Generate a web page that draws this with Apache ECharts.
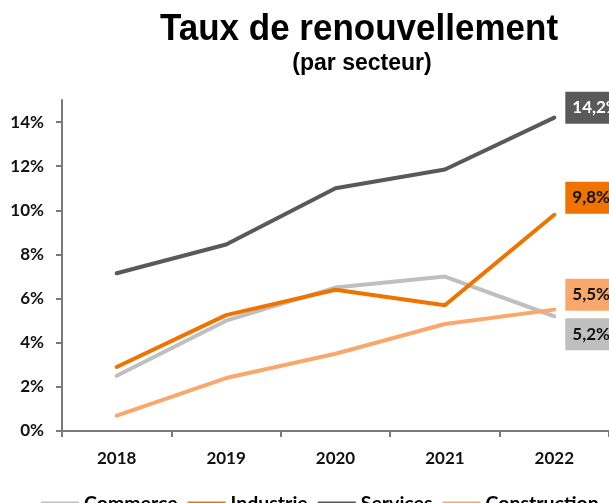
<!DOCTYPE html>
<html>
<head>
<meta charset="utf-8">
<script src="https://cdn.jsdelivr.net/npm/echarts@6/dist/echarts.min.js"></script>
<style>
  html, body { margin: 0; padding: 0; background: #ffffff; }
  #chart { width: 609px; height: 503px; }
</style>
</head>
<body>
<div id="chart"></div>
<script>
// Annual renewal rate by sector, in percent
const years = ['2018', '2019', '2020', '2021', '2022'];
const commerce = [2.5, 5.0, 6.5, 7.0, 5.2];
const industrie = [2.9, 5.25, 6.4, 5.7, 9.8];
const services = [7.15, 8.45, 11.0, 11.85, 14.2];
const construction = [0.7, 2.4, 3.5, 4.85, 5.5];
const yTicks = [0, 2, 4, 6, 8, 10, 12, 14];

const labelFont = 'Lato, "Open Sans", sans-serif';

function fmtPct(v) {
  return v.toFixed(1).replace('.', ',') + '%';
}

function lineSeries(name, data, color, labelBg, labelColor, dy) {
  return {
    name: name,
    type: 'line',
    data: data,
    symbol: 'none',
    lineStyle: { color: color, width: 4, cap: 'round' },
    itemStyle: { color: color },
    endLabel: {
      show: true,
      formatter: (p) => fmtPct(p.value),
      distance: 11,
      offset: [0, dy],
      backgroundColor: labelBg,
      color: labelColor,
      fontFamily: labelFont,
      fontWeight: 'bold',
      fontSize: 17,
      lineHeight: 18,
      padding: [7, 7, 7, 7]
    },
    emphasis: { disabled: true }
  };
}

const chart = echarts.init(document.getElementById('chart'), null, { renderer: 'canvas' });

chart.setOption({
  animation: false,
  backgroundColor: '#ffffff',
  graphic: [
    {
      type: 'text',
      x: 359, y: 30,
      scaleY: 1.03,
      style: {
        text: 'Taux de renouvellement',
        font: 'bold 35px "Liberation Sans", Arial, sans-serif',
        fill: '#000000',
        align: 'center',
        verticalAlign: 'middle'
      }
    },
    {
      type: 'text',
      x: 362, y: 64,
      style: {
        text: '(par secteur)',
        font: 'bold 23px "Liberation Sans", Arial, sans-serif',
        fill: '#000000',
        align: 'center',
        verticalAlign: 'middle'
      }
    }
  ],
  legend: {
    top: 489,
    left: 36,
    itemWidth: 38,
    itemHeight: 5,
    itemGap: 10,
    icon: 'rect',
    textStyle: {
      fontFamily: labelFont,
      fontWeight: 'bold',
      fontSize: 19.5,
      color: '#000000'
    },
    data: ['Commerce', 'Industrie', 'Services', 'Construction']
  },
  grid: { left: 62, top: 100, width: 550, height: 331, containLabel: false },
  xAxis: {
    type: 'category',
    data: years,
    boundaryGap: true,
    axisLine: { show: true, lineStyle: { color: '#7a7a7a', width: 2 } },
    axisTick: { show: true, length: 6, lineStyle: { color: '#7a7a7a', width: 2 } },
    axisLabel: {
      margin: 19,
      fontFamily: labelFont,
      fontWeight: 'bold',
      fontSize: 17,
      color: '#111111'
    },
    splitLine: { show: false }
  },
  yAxis: {
    type: 'value',
    min: 0,
    max: 15,
    axisLine: { show: true, lineStyle: { color: '#7a7a7a', width: 2 } },
    axisTick: { show: true, length: 6, customValues: yTicks, lineStyle: { color: '#7a7a7a', width: 2 } },
    axisLabel: {
      customValues: yTicks,
      margin: 18,
      formatter: (v) => v + '%',
      fontFamily: labelFont,
      fontWeight: 'bold',
      fontSize: 17,
      color: '#111111'
    },
    splitLine: { show: false }
  },
  series: [
    lineSeries('Commerce', commerce, '#BFBFBF', '#BFBFBF', '#111111', 18),
    lineSeries('Industrie', industrie, '#F07300', '#F07300', '#111111', -17),
    lineSeries('Services', services, '#595959', '#595959', '#ffffff', -10),
    lineSeries('Construction', construction, '#F9A86B', '#F9A86B', '#111111', -15)
  ]
});
</script>
</body>
</html>
